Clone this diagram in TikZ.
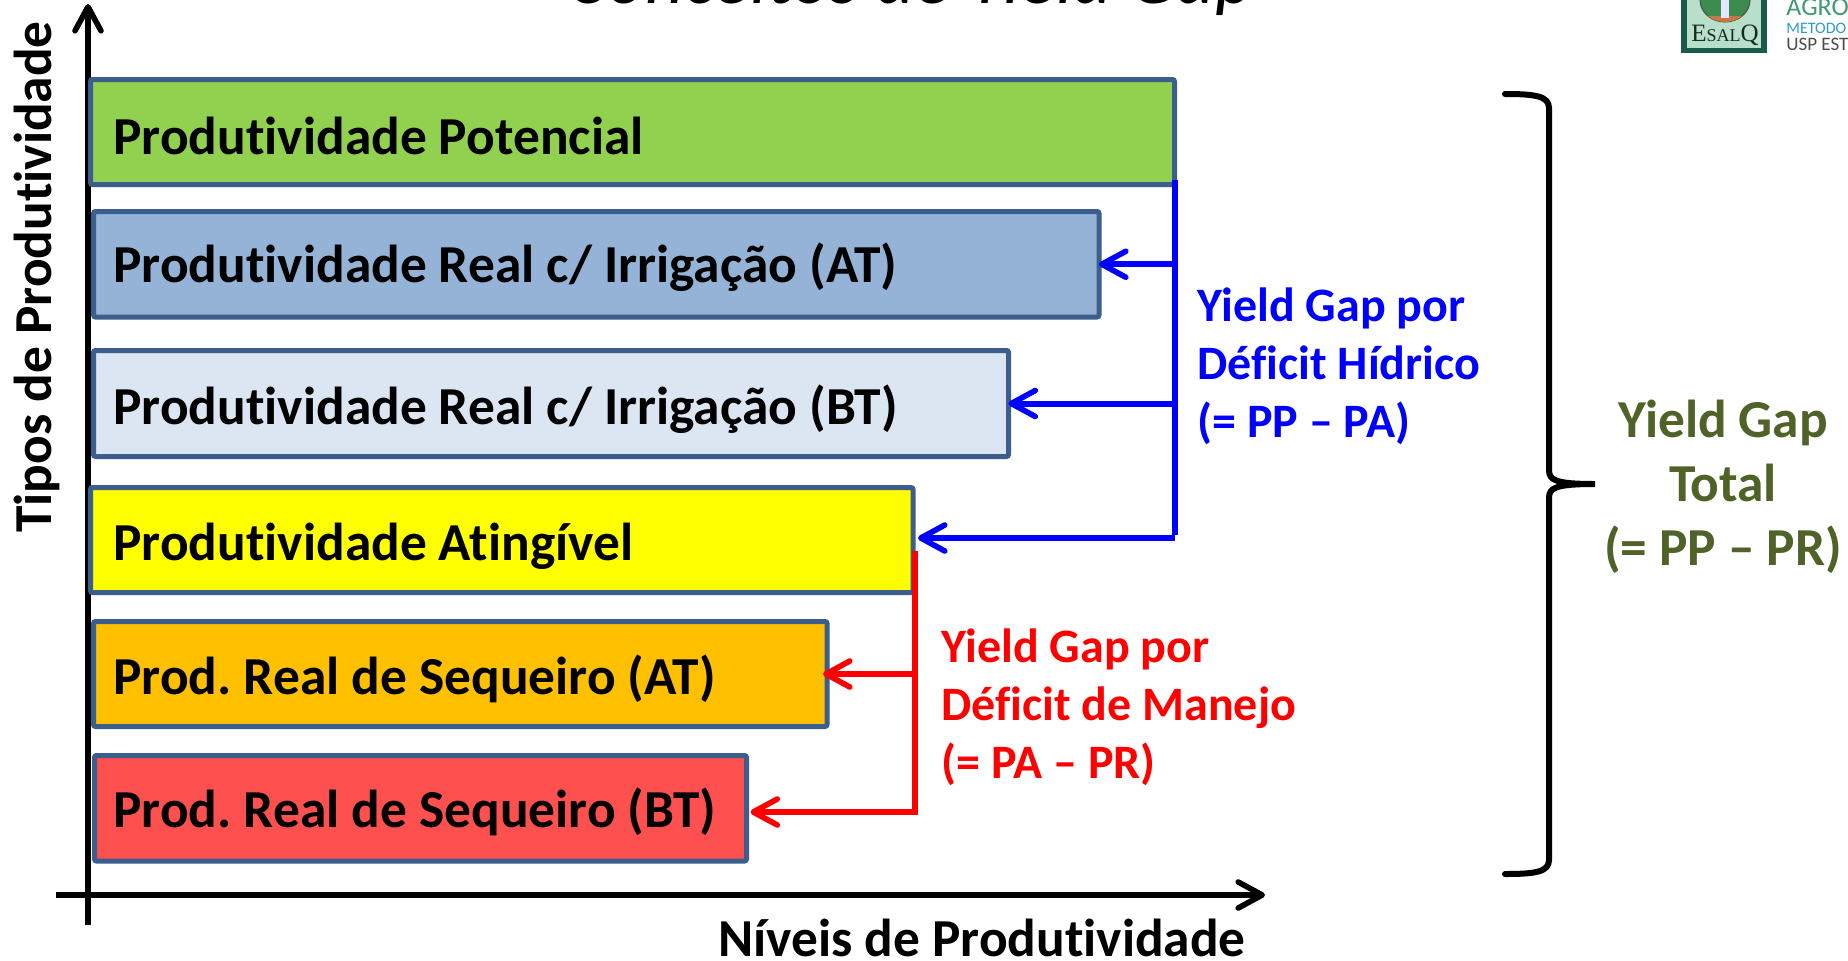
\documentclass[tikz,border=0pt]{standalone}
\usepackage{fontspec}
\setmainfont[Ligatures=NoCommon]{Carlito}
\newfontfamily\logofont{Liberation Serif}
\usepackage{tikz}
\usetikzlibrary{arrows.meta}
\definecolor{barline}{HTML}{3B5E8C}
\definecolor{totalgreen}{HTML}{4F6228}
\definecolor{baryellow}{rgb}{1,1,0}
\frenchspacing

\begin{document}
\begin{tikzpicture}[x=.5pt,y=.5pt,>={Straight Barb[length=12pt,width=13pt,round,line width=2.8pt]},
  bar node/.style={draw=barline,line width=2.5pt,rounded corners=1pt,anchor=north west,outer sep=0pt,inner ysep=0pt,align=flush left,
    text height=23pt,text depth=3pt,font=\fontsize{26.7}{30}\selectfont\bfseries,minimum height=#1*.5pt},
  gap label/.style={anchor=north west,align=flush left,inner sep=0pt,font=\fontsize{24}{29}\selectfont\bfseries},
  axis label/.style={inner sep=0pt,font=\fontsize{26.7}{30}\selectfont\bfseries},
  gap line/.style={line width=3pt},
  gap arrow/.style={line width=3pt,->},
  axis line/.style={line width=3pt,black,->}]

  \useasboundingbox (0,0) rectangle (1848,-960);

  \coordinate (xstart) at (56,-895);
  \coordinate (xend) at (1265,-895);
  \coordinate (ystart) at (88,-925);
  \coordinate (yend) at (88,-4);
  \draw[axis line] (xstart) -- (xend);
  \draw[axis line] (ystart) -- (yend);

  \node[bar node=105,fill={rgb,255:red,146;green,208;blue,80},minimum width=542pt,inner xsep=11.5pt,text width=519pt,text height=25pt] (pp) at (90.5,-79.5) {Produtividade Potencial};
  \node[bar node=105.5,fill={rgb,255:red,149;green,179;blue,215},minimum width=502.75pt,inner xsep=10pt,text width=482.75pt,text height=21pt] (irat) at (93.5,-211.5) {Produtividade Real c/ Irrigação (AT)};
  \node[bar node=106,fill={rgb,255:red,220;green,230;blue,242},minimum width=457.5pt,inner xsep=10pt,text width=437.5pt,text height=24pt] (irbt) at (93.5,-350.5) {Produtividade Real c/ Irrigação (BT)};
  \node[bar node=105,fill=baryellow,minimum width=411.25pt,inner xsep=11.5pt,text width=388.25pt] (pa) at (90.5,-487.5) {Produtividade Atingível};
  \node[bar node=105,fill={rgb,255:red,255;green,192;blue,0},minimum width=366.75pt,inner xsep=10pt,text width=346.75pt] (sat) at (93.5,-621.5) {Prod. Real de Sequeiro (AT)};
  \node[bar node=105.5,fill={rgb,255:red,255;green,80;blue,80},minimum width=326pt,inner xsep=9.5pt,text width=307pt,text height=22pt] (sbt) at (94.5,-755.5) {Prod. Real de Sequeiro (BT)};

  \coordinate (bluetop) at (1175,-180);
  \coordinate (bluebot) at (1175,-538);
  \coordinate (redtop) at (915,-551);
  \coordinate (redbot) at (915,-815);
  \draw[gap line,blue] (bluetop) -- (1175,-535);
  \draw[gap arrow,blue] (bluetop |- irat.east) -- (irat.east);
  \draw[gap arrow,blue] (bluetop |- irbt.east) -- (irbt.east);
  \draw[gap arrow,blue] (bluebot) -- ([xshift=2.5pt]pa.east |- bluebot);
  \draw[gap line,red] (redtop) -- (redbot);
  \draw[gap arrow,red] (redtop |- sat.east) -- ([shift={(-4,0)}]sat.east);
  \draw[gap arrow,red] (915,-812) -- ([xshift=2pt]sbt.east |- 915,-812);

  \node[gap label,blue] (bluelabel) at (1197,-287) {Yield Gap por\\Déficit Hídrico\\(= PP – PA)};
  \node[gap label,red] (redlabel) at (941,-628) {Yield Gap por\\Déficit de Manejo\\(= PA – PR)};
  \node[anchor=center,align=flush center,inner sep=0pt,text=totalgreen,font=\fontsize{26.7}{32}\selectfont\bfseries] (total) at (1723,-486.5) {Yield Gap\\Total\\(= PP – PR)};

  \node[axis label,anchor=base] (xlabel) at (982,-956) {Níveis de Produtividade};
  \node[axis label,rotate=90] (ylabel) at (36.5,-277) {Tipos de Produtividade};
  \node[anchor=base,inner sep=0pt,font=\fontsize{37.5}{40}\selectfont\itshape] (title) at (911,-3) {Conceitos de Yield Gap};

  \draw[line width=3pt,line cap=round,black] (1505,-94) .. controls (1535,-94) and (1549,-96) .. (1549,-108) -- (1549,-470)
    .. controls (1549,-480) and (1555,-484) .. (1595,-484) .. controls (1555,-484) and (1549,-488) .. (1549,-498)
    -- (1549,-860) .. controls (1549,-872) and (1535,-874) .. (1505,-874);

  \fill[fill={rgb,255:red,26;green,92;blue,74}] (1681,0) rectangle (1767,-53);
  \fill[fill={rgb,255:red,183;green,223;blue,202}] (1687,0) rectangle (1761,-48);
  \begin{scope}
    \clip (1687,0) rectangle (1761,-48);
    \draw[fill={rgb,255:red,60;green,140;blue,80},draw=black!70,line width=.5pt] (1725,0) ellipse (25 and 22);
    \fill[fill={rgb,255:red,200;green,120;blue,70}] (1708,-16) .. controls (1718,-24) and (1732,-24) .. (1742,-16) -- cycle;
    \fill[white!90!blue] (1721,0) rectangle (1729,-18);
  \end{scope}
  \node[anchor=base,inner sep=0pt,text={rgb,255:red,25;green,40;blue,35}] (esalq) at (1725,-41.5) {\logofont\fontsize{12.5}{14}\selectfont E\fontsize{9}{14}\selectfont SAL\fontsize{12.5}{14}\selectfont Q};
  \node[anchor=base west,inner sep=0pt,text={rgb,255:red,63;green,155;blue,107},font=\fontsize{13}{14}\selectfont] (agro) at (1786,-15) {AGRO};
  \node[anchor=base west,inner sep=0pt,text={rgb,255:red,46;green,154;blue,208},font=\fontsize{8}{9}\selectfont] (metodo) at (1786,-33) {METODO};
  \node[anchor=base west,inner sep=0pt,text=black!70,font=\fontsize{9.5}{10}\selectfont] (usp) at (1786,-50) {USP EST};

\end{tikzpicture}
\end{document}
